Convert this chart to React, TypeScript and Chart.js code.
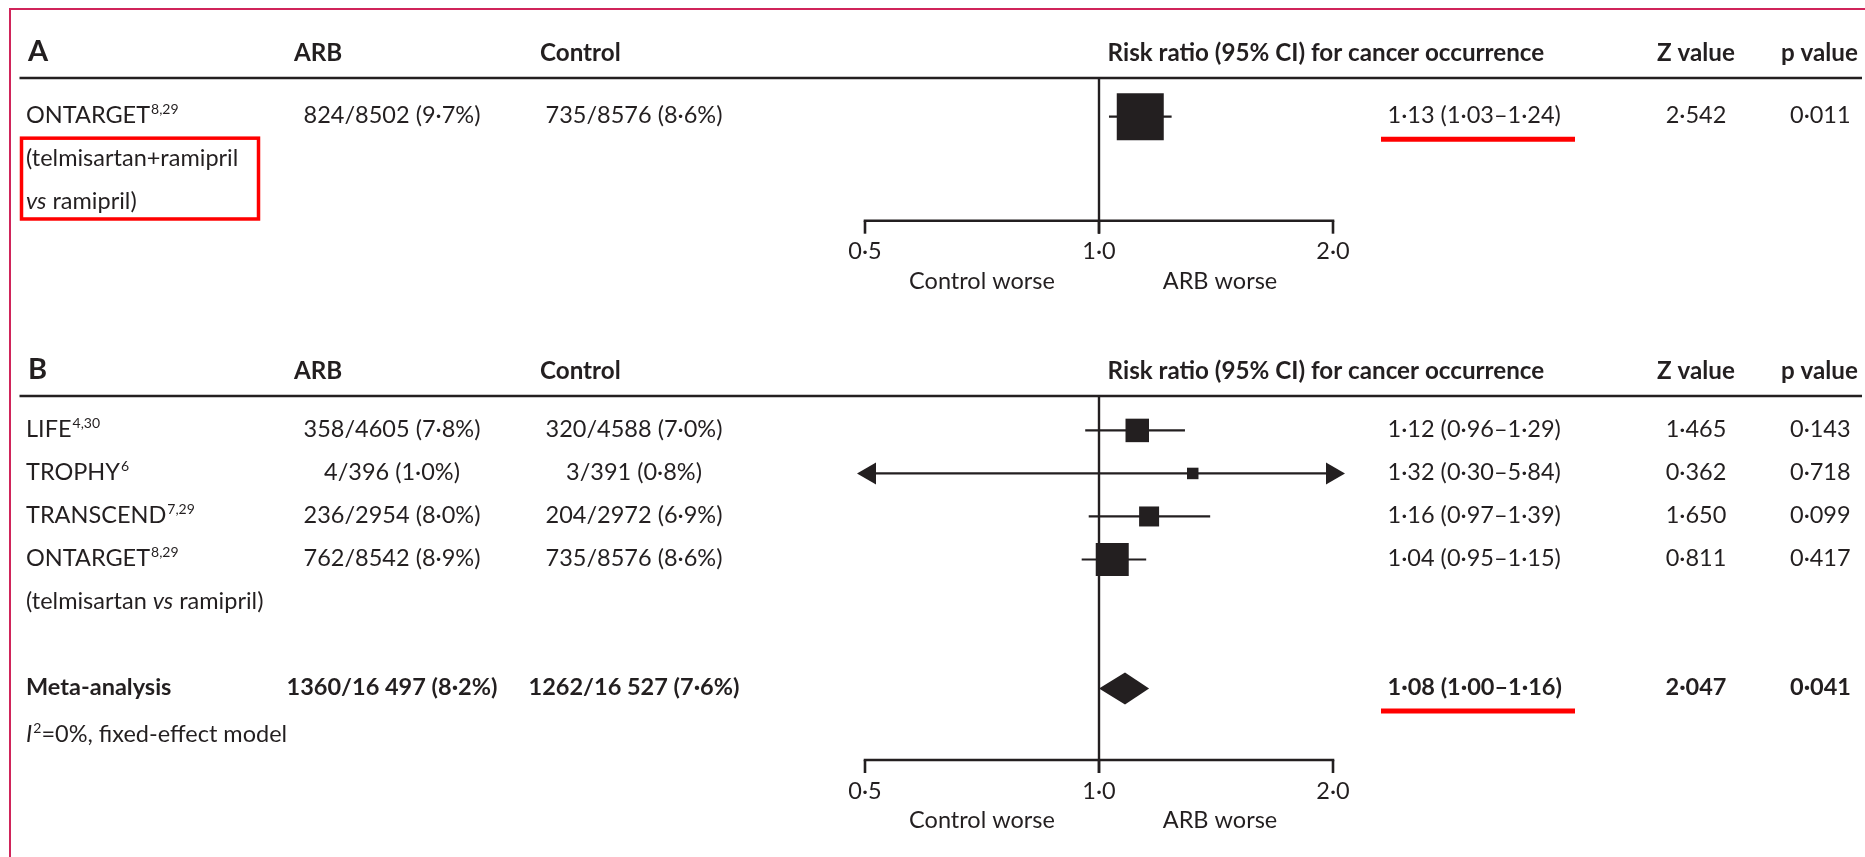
import React, { useEffect, useRef } from 'react';
import { Chart, registerables } from 'chart.js';

Chart.register(...registerables);

// ----------------------------- data -----------------------------
const AXIS_TICKS = [0.5, 1, 2];
const AXIS_TICK_LABELS = ['0·5', '1·0', '2·0'];
const SIDE_LABELS = ['Control worse', 'ARB worse'];
const COLUMN_HEADERS = ['ARB', 'Control', 'Risk ratio (95% CI) for cancer occurrence', 'Z value', 'p value'];

// Panel A
const A_STUDIES = ['ONTARGET'];
const A_REFS = ['8,29'];
const A_SUBTITLE = ['(telmisartan+ramipril', 'vs', ' ramipril)'];
const A_ARB_EVENTS = [824];
const A_ARB_TOTAL = [8502];
const A_CTRL_EVENTS = [735];
const A_CTRL_TOTAL = [8576];
const A_RR = [1.13];
const A_LOW = [1.03];
const A_HIGH = [1.24];
const A_Z = [2.542];
const A_P = [0.011];

// Panel B
const B_STUDIES = ['LIFE', 'TROPHY', 'TRANSCEND', 'ONTARGET'];
const B_REFS = ['4,30', '6', '7,29', '8,29'];
const B_SUBTITLE = ['(telmisartan ', 'vs', ' ramipril)'];
const B_ARB_EVENTS = [358, 4, 236, 762];
const B_ARB_TOTAL = [4605, 396, 2954, 8542];
const B_CTRL_EVENTS = [320, 3, 204, 735];
const B_CTRL_TOTAL = [4588, 391, 2972, 8576];
const B_RR = [1.12, 1.32, 1.16, 1.04];
const B_LOW = [0.96, 0.3, 0.97, 0.95];
const B_HIGH = [1.29, 5.84, 1.39, 1.15];
const B_Z = [1.465, 0.362, 1.65, 0.811];
const B_P = [0.143, 0.718, 0.099, 0.417];

const META_LABEL = 'Meta-analysis';
const META_NOTE = ['I', '2', '=0%, fixed-effect model'];
const META_ARB = [1360, 16497];
const META_CTRL = [1262, 16527];
const META_RR = 1.08;
const META_LOW = 1.0;
const META_HIGH = 1.16;
const META_Z = 2.047;
const META_P = 0.041;

// ----------------------------- styles / layout -----------------------------
const INK = '#231f20';
const RED = '#ff0000';
const FAMILY = 'Lato, "Noto Sans", sans-serif';
const FS = 23.5;
const F_REG = `${FS}px ${FAMILY}`;
const F_BOLD = `bold ${FS}px ${FAMILY}`;
const F_HEAD = `bold 24.2px ${FAMILY}`;
const F_ITAL = `italic ${FS}px ${FAMILY}`;
const F_SUP = `14px ${FAMILY}`;
const F_LETTER = `bold 29px ${FAMILY}`;
const W = 1865;
const PLOT_LEFT = 865;
const PLOT_RIGHT = 1333;
const COL = { name: 26, arb: 392, ctrl: 634, ci: 1387.6, z: 1696, p: 1790 };
const HEADER_X = [294, 540, 1107.6, 1696, 1781];
const A_BOX = [47];
const B_BOX = [23.5, 11.5, 20, 33];

type Seg = { t: string; s?: 'n' | 'b' | 'i' | 'sup' };

const dot = (v: number, d: number) => v.toFixed(d).replace('.', '·');
const int = (n: number) => {
  const s = String(n);
  return n >= 10000 ? s.slice(0, s.length - 3) + ' ' + s.slice(-3) : s;
};
const counts = (e: number, t: number) => `${int(e)}/${int(t)} (${dot((e / t) * 100, 1)}%)`;
const ciText = (r: number, l: number, h: number) => `${dot(r, 2)} (${dot(l, 2)}–${dot(h, 2)})`;

interface RowSpec {
  row: number;
  name: Seg[];
  arb?: string;
  ctrl?: string;
  ci?: string;
  z?: string;
  p?: string;
  bold?: boolean;
  underline?: boolean;
}
interface PanelSpec {
  letter: string;
  top: number;
  height: number;
  ruleY: number;
  axisY: number;
  yMin: number;
  yMax: number;
  rows: RowSpec[];
  studies: { row: number; rr: number; low: number; high: number }[];
  boxes: number[];
  diamond?: { row: number; rr: number; low: number; high: number };
  redBox?: { from: number; to: number };
}

const PANEL_A: PanelSpec = {
  letter: 'A',
  top: 0,
  height: 330,
  ruleY: 78,
  axisY: 220.7,
  yMin: 0.1,
  yMax: 3.42,
  rows: [
    ...A_STUDIES.map((s, i) => ({
      row: i + 1,
      name: [{ t: s }, { t: A_REFS[i], s: 'sup' as const }],
      arb: counts(A_ARB_EVENTS[i], A_ARB_TOTAL[i]),
      ctrl: counts(A_CTRL_EVENTS[i], A_CTRL_TOTAL[i]),
      ci: ciText(A_RR[i], A_LOW[i], A_HIGH[i]),
      z: dot(A_Z[i], 3),
      p: dot(A_P[i], 3),
      underline: true,
    })),
    { row: 2, name: [{ t: A_SUBTITLE[0] }] },
    { row: 3, name: [{ t: A_SUBTITLE[1], s: 'i' }, { t: A_SUBTITLE[2] }] },
  ],
  studies: A_RR.map((rr, i) => ({ row: i + 1, rr, low: A_LOW[i], high: A_HIGH[i] })),
  boxes: A_BOX,
  redBox: { from: 1.5, to: 3.38 },
};

const PANEL_B: PanelSpec = {
  letter: 'B',
  top: 330,
  height: 527,
  ruleY: 396,
  axisY: 760,
  yMin: 0.2,
  yMax: 8.66,
  rows: [
    ...B_STUDIES.map((s, i) => ({
      row: i + 1,
      name: [{ t: s }, { t: B_REFS[i], s: 'sup' as const }],
      arb: counts(B_ARB_EVENTS[i], B_ARB_TOTAL[i]),
      ctrl: counts(B_CTRL_EVENTS[i], B_CTRL_TOTAL[i]),
      ci: ciText(B_RR[i], B_LOW[i], B_HIGH[i]),
      z: dot(B_Z[i], 3),
      p: dot(B_P[i], 3),
    })),
    { row: 5, name: [{ t: B_SUBTITLE[0] }, { t: B_SUBTITLE[1], s: 'i' }, { t: B_SUBTITLE[2] }] },
    {
      row: 7,
      name: [{ t: META_LABEL, s: 'b' }],
      arb: counts(META_ARB[0], META_ARB[1]),
      ctrl: counts(META_CTRL[0], META_CTRL[1]),
      ci: ciText(META_RR, META_LOW, META_HIGH),
      z: dot(META_Z, 3),
      p: dot(META_P, 3),
      bold: true,
      underline: true,
    },
    { row: 8.1, name: [{ t: META_NOTE[0], s: 'i' }, { t: META_NOTE[1], s: 'sup' }, { t: META_NOTE[2] }] },
  ],
  studies: B_RR.map((rr, i) => ({ row: i + 1, rr, low: B_LOW[i], high: B_HIGH[i] })),
  boxes: B_BOX,
  diamond: { row: 7, rr: META_RR, low: META_LOW, high: META_HIGH },
};

// ----------------------------- drawing helpers -----------------------------
function segFont(s: Seg['s'], bold: boolean) {
  if (s === 'sup') return F_SUP;
  if (s === 'i') return F_ITAL;
  if (s === 'b' || bold) return F_BOLD;
  return F_REG;
}

function drawRich(ctx: CanvasRenderingContext2D, segs: Seg[], x: number, y: number, align: 'left' | 'center', bold = false) {
  let w = 0;
  segs.forEach((sg) => {
    ctx.font = segFont(sg.s, bold);
    w += ctx.measureText(sg.t).width;
  });
  let cx = align === 'center' ? x - w / 2 : x;
  ctx.textAlign = 'left';
  segs.forEach((sg) => {
    ctx.font = segFont(sg.s, bold);
    ctx.fillText(sg.t, cx + (sg.s === 'sup' ? 1 : 0), sg.s === 'sup' ? y - 9 : y);
    cx += ctx.measureText(sg.t).width + (sg.s === 'sup' ? 1 : 0);
  });
}

function hLine(ctx: CanvasRenderingContext2D, x1: number, x2: number, y: number) {
  ctx.beginPath();
  ctx.moveTo(x1, y);
  ctx.lineTo(x2, y);
  ctx.stroke();
}
function vLine(ctx: CanvasRenderingContext2D, x: number, y1: number, y2: number) {
  ctx.beginPath();
  ctx.moveTo(x, y1);
  ctx.lineTo(x, y2);
  ctx.stroke();
}

const TICK_LEN = 13;
const ARROW_LEN = 19;
const ARROW_HALF = 11;

function makePlugin(spec: PanelSpec) {
  return {
    id: 'forest' + spec.letter,
    beforeDatasetsDraw(chart: any) {
      const { ctx, chartArea } = chart;
      const xs = chart.scales.x;
      const ys = chart.scales.y;
      const minV = AXIS_TICKS[0];
      const maxV = AXIS_TICKS[AXIS_TICKS.length - 1];
      ctx.save();
      ctx.strokeStyle = INK;
      ctx.fillStyle = INK;
      // line of no effect
      ctx.lineWidth = 2.4;
      vLine(ctx, xs.getPixelForValue(1), chartArea.top, chartArea.bottom + TICK_LEN);
      // confidence intervals
      ctx.lineWidth = 2.2;
      spec.studies.forEach((st) => {
        const yy = ys.getPixelForValue(st.row);
        const leftArrow = st.low < minV;
        const rightArrow = st.high > maxV;
        const xl = leftArrow ? xs.getPixelForValue(minV) - 8 : xs.getPixelForValue(st.low);
        const xr = rightArrow ? xs.getPixelForValue(maxV) + 12 : xs.getPixelForValue(st.high);
        hLine(ctx, xl + (leftArrow ? ARROW_LEN - 1 : 0), xr - (rightArrow ? ARROW_LEN - 1 : 0), yy);
        if (leftArrow) {
          ctx.beginPath();
          ctx.moveTo(xl, yy);
          ctx.lineTo(xl + ARROW_LEN, yy - ARROW_HALF);
          ctx.lineTo(xl + ARROW_LEN, yy + ARROW_HALF);
          ctx.closePath();
          ctx.fill();
        }
        if (rightArrow) {
          ctx.beginPath();
          ctx.moveTo(xr, yy);
          ctx.lineTo(xr - ARROW_LEN, yy - ARROW_HALF);
          ctx.lineTo(xr - ARROW_LEN, yy + ARROW_HALF);
          ctx.closePath();
          ctx.fill();
        }
      });
      ctx.restore();
    },
    afterDraw(chart: any) {
      const { ctx, chartArea } = chart;
      const xs = chart.scales.x;
      const ys = chart.scales.y;
      const base = (r: number) => ys.getPixelForValue(r) + 6.5;
      ctx.save();
      ctx.fillStyle = INK;
      ctx.strokeStyle = INK;
      ctx.textBaseline = 'alphabetic';

      // header row
      const hy = chartArea.top - 17;
      ctx.font = F_LETTER;
      ctx.textAlign = 'left';
      ctx.fillText(spec.letter, 28, hy);
      ctx.font = F_HEAD;
      COLUMN_HEADERS.forEach((h, i) => {
        ctx.textAlign = i === 3 ? 'center' : 'left';
        ctx.fillText(h, HEADER_X[i], hy);
      });
      ctx.lineWidth = 2.7;
      hLine(ctx, 19.5, 1862, chartArea.top);

      // diamond (pooled estimate)
      if (spec.diamond) {
        const d = spec.diamond;
        const yy = ys.getPixelForValue(d.row);
        ctx.beginPath();
        ctx.moveTo(xs.getPixelForValue(d.low), yy);
        ctx.lineTo(xs.getPixelForValue(d.rr), yy - 16);
        ctx.lineTo(xs.getPixelForValue(d.high), yy);
        ctx.lineTo(xs.getPixelForValue(d.rr), yy + 16);
        ctx.closePath();
        ctx.fill();
      }

      // table rows
      spec.rows.forEach((r) => {
        const by = base(r.row);
        const b = !!r.bold;
        drawRich(ctx, r.name, COL.name, by, 'left', b);
        if (r.arb) drawRich(ctx, [{ t: r.arb }], COL.arb, by, 'center', b);
        if (r.ctrl) drawRich(ctx, [{ t: r.ctrl }], COL.ctrl, by, 'center', b);
        if (r.ci) drawRich(ctx, [{ t: r.ci }], COL.ci, by, 'left', b);
        if (r.z) drawRich(ctx, [{ t: r.z }], COL.z, by, 'center', b);
        if (r.p) drawRich(ctx, [{ t: r.p }], COL.p, by, 'left', b);
        if (r.underline) {
          ctx.save();
          ctx.strokeStyle = RED;
          ctx.lineWidth = 5;
          hLine(ctx, 1381, 1575, by + 16);
          ctx.restore();
        }
      });

      // axis bracket
      const ay = chartArea.bottom;
      const tx = AXIS_TICKS.map((v) => xs.getPixelForValue(v));
      ctx.lineWidth = 2.6;
      ctx.lineCap = 'square';
      hLine(ctx, tx[0], tx[tx.length - 1], ay);
      ctx.lineCap = 'butt';
      tx.forEach((x) => vLine(ctx, x, ay, ay + TICK_LEN));
      ctx.font = F_REG;
      ctx.textAlign = 'center';
      AXIS_TICK_LABELS.forEach((l, i) => ctx.fillText(l, tx[i], ay + 38.5));
      ctx.fillText(SIDE_LABELS[0], (tx[0] + tx[1]) / 2, ay + 68);
      ctx.fillText(SIDE_LABELS[1], (tx[1] + tx[2]) / 2 + 4, ay + 68);

      // highlight box
      if (spec.redBox) {
        ctx.strokeStyle = RED;
        ctx.lineWidth = 3.5;
        const t = ys.getPixelForValue(spec.redBox.from);
        const bt = ys.getPixelForValue(spec.redBox.to);
        ctx.strokeRect(21.5, t, 237, bt - t);
      }
      ctx.restore();
    },
  };
}

function Panel({ spec }: { spec: PanelSpec }) {
  const ref = useRef<HTMLCanvasElement>(null);
  useEffect(() => {
    if (!ref.current) return;
    const chart = new Chart(ref.current, {
      type: 'scatter',
      data: {
        datasets: [
          {
            data: spec.studies.map((s) => ({ x: s.rr, y: s.row })),
            pointStyle: 'rect',
            pointRadius: spec.boxes.map((b) => b / Math.SQRT2),
            pointHoverRadius: spec.boxes.map((b) => b / Math.SQRT2),
            pointBackgroundColor: INK,
            pointBorderWidth: 0,
            showLine: false,
            clip: false,
          } as any,
        ],
      },
      options: {
        animation: false,
        responsive: false,
        maintainAspectRatio: false,
        events: [],
        layout: {
          padding: {
            left: PLOT_LEFT,
            right: W - PLOT_RIGHT,
            top: spec.ruleY - spec.top,
            bottom: spec.top + spec.height - spec.axisY,
          },
        },
        scales: {
          x: { type: 'logarithmic', min: AXIS_TICKS[0], max: AXIS_TICKS[AXIS_TICKS.length - 1], display: false, bounds: 'data' },
          y: { type: 'linear', min: spec.yMin, max: spec.yMax, reverse: true, display: false, bounds: 'data' },
        },
        plugins: { legend: { display: false }, tooltip: { enabled: false } },
      } as any,
      plugins: [makePlugin(spec)],
    });
    return () => chart.destroy();
  }, [spec]);
  return (
    <canvas
      ref={ref}
      width={W}
      height={spec.height}
      style={{ position: 'absolute', left: 0, top: spec.top, width: W, height: spec.height, display: 'block' }}
    />
  );
}

export default function App() {
  return (
    <div style={{ position: 'fixed', left: 0, top: 0, width: W, height: 857, background: '#ffffff', overflow: 'hidden' }}>
      <div
        style={{
          position: 'absolute',
          left: 9,
          top: 8,
          right: -4,
          bottom: -4,
          borderLeft: '2px solid #d0245a',
          borderTop: '2px solid #d0245a',
        }}
      />
      <Panel spec={PANEL_A} />
      <Panel spec={PANEL_B} />
    </div>
  );
}
